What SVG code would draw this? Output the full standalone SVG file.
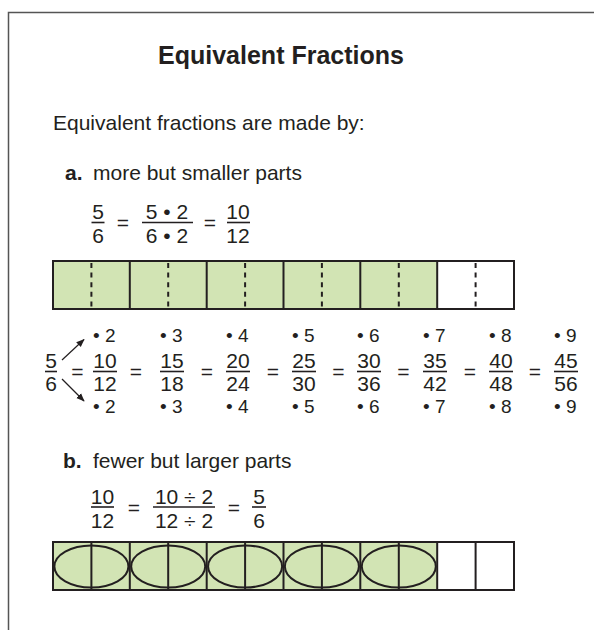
<svg xmlns="http://www.w3.org/2000/svg" width="594" height="630" viewBox="0 0 594 630">
<style>
text{font-family:"Liberation Sans",Arial,sans-serif;fill:#231f20}
.t{font-size:25px;font-weight:bold}
.b{font-size:21px}
.bold{font-weight:bold}
.f{font-size:21px;text-anchor:middle}
.m{font-size:19px}
.fl{stroke:#231f20;stroke-width:1.6}
.cell{stroke:#231f20;stroke-width:2}
.dash{stroke:#231f20;stroke-width:2;stroke-dasharray:5 4.6}
.ell{fill:none;stroke:#231f20;stroke-width:2}
.ar{stroke:#231f20;stroke-width:1.2;fill:none}
</style>
<defs>
<marker id="ah" viewBox="0 0 10 10" refX="9" refY="5" markerWidth="7" markerHeight="7" orient="auto"><path d="M0,1 L10,5 L0,9 z" fill="#231f20"/></marker>
</defs>
<g id="frame"><path d="M8.5,630 V12.5 H594" fill="none" stroke="#555" stroke-width="1.5"/></g>
<g id="title"><text class="t" x="281" y="64" text-anchor="middle">Equivalent Fractions</text></g>
<g id="intro"><text class="b" x="53" y="130">Equivalent fractions are made by:</text></g>
<g id="labelA"><text class="b" x="65" y="180"><tspan class="bold">a.</tspan><tspan x="93">more but smaller parts</tspan></text></g>
<g id="eqA">
<text class="f" x="98" y="219">5</text><line class="fl" x1="91.5" y1="222.5" x2="104.5" y2="222.5"/><text class="f" x="98" y="242.5">6</text>
<text class="f" x="123" y="230">=</text>
<text class="f" x="167" y="219">5 • 2</text><line class="fl" x1="142" y1="222.5" x2="193" y2="222.5"/><text class="f" x="167" y="242.5">6 • 2</text>
<text class="f" x="210" y="230">=</text>
<text class="f" x="238" y="219">10</text><line class="fl" x1="227" y1="222.5" x2="250" y2="222.5"/><text class="f" x="238" y="242.5">12</text>
</g>
<g id="barA">
<rect x="53" y="261" width="384" height="48" fill="#d2e4b4"/>
<rect x="53" y="261" width="461" height="48" fill="none" class="cell"/>
<path class="cell" d="M129.8,261V309M206.7,261V309M283.5,261V309M360.3,261V309M437.2,261V309"/>
<path class="dash" d="M91.4,263V308M168.2,263V308M245.1,263V308M321.9,263V308M398.8,263V308M475.6,263V308"/>
</g>
<g id="chain">
<text class="f" x="51" y="367.5">5</text><line class="fl" x1="45" y1="371.5" x2="57" y2="371.5"/><text class="f" x="51" y="391">6</text>
<text class="f" x="77.5" y="379">=</text>
<text class="f" x="105" y="367.5">10</text><line class="fl" x1="93" y1="371.5" x2="117" y2="371.5"/><text class="f" x="105" y="391">12</text>
<text class="f" x="136" y="379">=</text>
<text class="f" x="172" y="367.5">15</text><line class="fl" x1="160" y1="371.5" x2="184" y2="371.5"/><text class="f" x="172" y="391">18</text>
<text class="f" x="207" y="379">=</text>
<text class="f" x="238" y="367.5">20</text><line class="fl" x1="226" y1="371.5" x2="250" y2="371.5"/><text class="f" x="238" y="391">24</text>
<text class="f" x="273" y="379">=</text>
<text class="f" x="304" y="367.5">25</text><line class="fl" x1="292" y1="371.5" x2="316" y2="371.5"/><text class="f" x="304" y="391">30</text>
<text class="f" x="338.5" y="379">=</text>
<text class="f" x="369" y="367.5">30</text><line class="fl" x1="357" y1="371.5" x2="381" y2="371.5"/><text class="f" x="369" y="391">36</text>
<text class="f" x="403.5" y="379">=</text>
<text class="f" x="435" y="367.5">35</text><line class="fl" x1="423" y1="371.5" x2="447" y2="371.5"/><text class="f" x="435" y="391">42</text>
<text class="f" x="470" y="379">=</text>
<text class="f" x="501" y="367.5">40</text><line class="fl" x1="489" y1="371.5" x2="513" y2="371.5"/><text class="f" x="501" y="391">48</text>
<text class="f" x="535" y="379">=</text>
<text class="f" x="566" y="367.5">45</text><line class="fl" x1="554" y1="371.5" x2="578" y2="371.5"/><text class="f" x="566" y="391">56</text>
<g class="m">
<text x="93" y="342">• 2</text><text x="160" y="342">• 3</text><text x="226" y="342">• 4</text><text x="292" y="342">• 5</text><text x="357" y="342">• 6</text><text x="423" y="342">• 7</text><text x="489" y="342">• 8</text><text x="554" y="342">• 9</text>
<text x="93" y="413">• 2</text><text x="160" y="413">• 3</text><text x="226" y="413">• 4</text><text x="292" y="413">• 5</text><text x="357" y="413">• 6</text><text x="423" y="413">• 7</text><text x="489" y="413">• 8</text><text x="554" y="413">• 9</text>
</g>
</g>
<g id="connectors">
<line class="ar" x1="62" y1="360" x2="84" y2="339.5" marker-end="url(#ah)"/>
<line class="ar" x1="62" y1="379" x2="84" y2="401" marker-end="url(#ah)"/>
</g>
<g id="labelB"><text class="b" x="63" y="468"><tspan class="bold">b.</tspan><tspan x="93">fewer but larger parts</tspan></text></g>
<g id="eqB">
<text class="f" x="102.5" y="504">10</text><line class="fl" x1="91" y1="507" x2="114" y2="507"/><text class="f" x="102.5" y="528">12</text>
<text class="f" x="134" y="515">=</text>
<text class="f" x="184" y="504">10 ÷ 2</text><line class="fl" x1="153" y1="507" x2="215" y2="507"/><text class="f" x="184" y="528">12 ÷ 2</text>
<text class="f" x="234" y="515">=</text>
<text class="f" x="259" y="504">5</text><line class="fl" x1="252" y1="507" x2="266" y2="507"/><text class="f" x="259" y="528">6</text>
</g>
<g id="barB">
<rect x="53" y="542" width="384" height="48" fill="#d2e4b4"/>
<g class="ell">
<ellipse cx="91.4" cy="566.5" rx="37" ry="21"/><ellipse cx="168.2" cy="566.5" rx="37" ry="21"/><ellipse cx="245.1" cy="566.5" rx="37" ry="21"/><ellipse cx="321.9" cy="566.5" rx="37" ry="21"/><ellipse cx="398.8" cy="566.5" rx="37" ry="21"/>
</g>
<rect x="53" y="542" width="461" height="48" fill="none" class="cell"/>
<path class="cell" d="M91.4,542V590M129.8,542V590M168.2,542V590M206.7,542V590M245.1,542V590M283.5,542V590M321.9,542V590M360.3,542V590M398.8,542V590M437.2,542V590M475.6,542V590"/>
</g>
</svg>
